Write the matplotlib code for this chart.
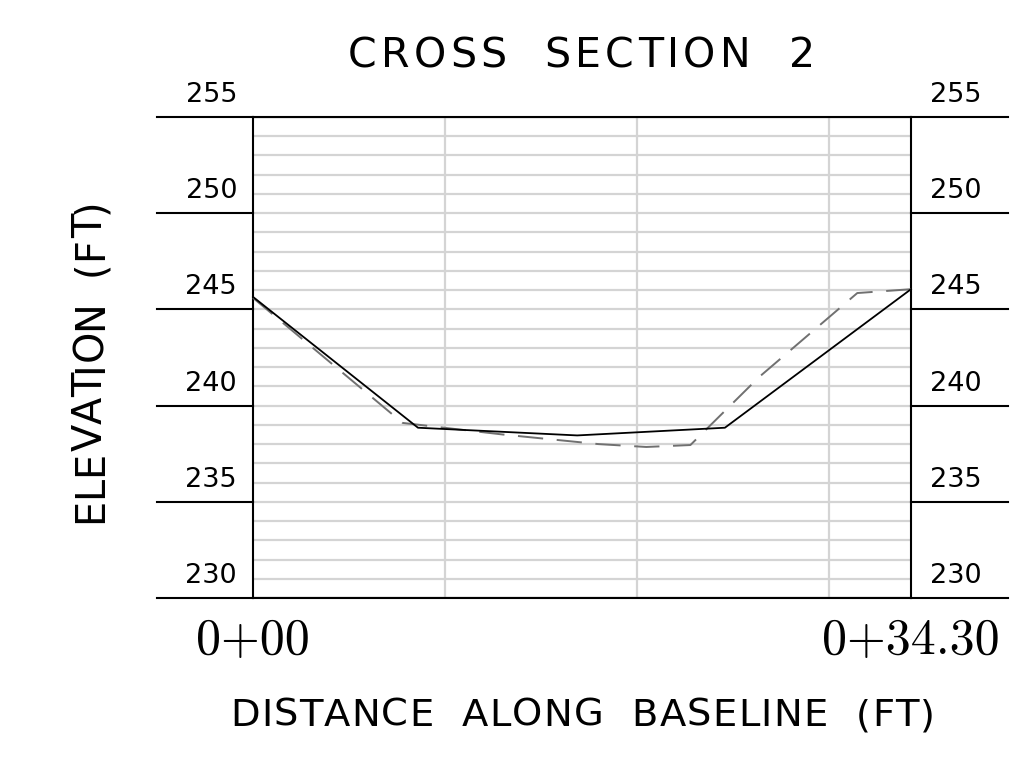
import matplotlib
matplotlib.use("Agg")
import matplotlib.pyplot as plt
from matplotlib.font_manager import FontProperties, findfont, get_font
from matplotlib.transforms import IdentityTransform

# Data
solid_x = [0.0, 8.6, 16.9, 24.6, 34.3]
solid_y = [245.65, 238.85, 238.45, 238.85, 246.05]
dash_x = [0.0, 7.8, 13.0, 18.0, 20.5, 22.8, 26.4, 31.5, 34.3]
dash_y = [245.6, 239.1, 238.5, 238.0, 237.85, 237.95, 241.5, 245.85, 246.05]
major_y = [230, 235, 240, 245, 250, 255]
minor_y = list(range(230, 256))
vgrid_x = [10, 20, 30]
station_labels = ["0+00", "0+34.30"]
station_x = [0.0, 34.3]
title = "CROSS  SECTION  2"
xlabel = "DISTANCE  ALONG  BASELINE  (FT)"
ylabel = "ELEVATION  (FT)"
xmin, xmax = 0.0, 34.3
ymin, ymax = 230, 255

W, H = 1036, 761
DPI = 100
fig = plt.figure(figsize=(W / DPI, H / DPI), dpi=DPI)
ax = fig.add_axes([253 / W, 1 - 598 / H, (911 - 253) / W, (598 - 117) / H])
ax.set_xlim(xmin, xmax)
ax.set_ylim(ymin, ymax)
ax.set_xticks([])
ax.set_yticks([])
for s in ax.spines.values():
    s.set_linewidth(1.5)
    s.set_color("black")

grid_c = "#d4d4d4"
for y in minor_y:
    ax.axhline(y, color=grid_c, lw=1.6, zorder=1)
for x in vgrid_x:
    ax.axvline(x, color=grid_c, lw=1.6, zorder=1)

trans = ax.get_yaxis_transform()
left_ext = (157 - 253) / (911 - 253)
right_ext = (1008 - 253) / (911 - 253)
for y in major_y:
    ax.plot([left_ext, 0], [y, y], color="black", lw=1.5, transform=trans, clip_on=False)
    ax.plot([1, right_ext], [y, y], color="black", lw=1.5, transform=trans, clip_on=False)
    ax.annotate(str(y), xy=(0, y), xycoords=trans, xytext=(-16, 9), textcoords="offset pixels",
                ha="right", va="bottom", fontsize=19.5, family="DejaVu Sans")
    ax.annotate(str(y), xy=(1, y), xycoords=trans, xytext=(19, 9), textcoords="offset pixels",
                ha="left", va="bottom", fontsize=19.5, family="DejaVu Sans")
ax.axhline(ymax, color="black", lw=1.5, zorder=3)
ax.axhline(ymin, color="black", lw=1.5, zorder=3)

ax.plot(dash_x, dash_y, color="#707070", lw=1.4, dashes=(13, 7), zorder=4, clip_on=False)
ax.plot(solid_x, solid_y, color="black", lw=1.3, zorder=5, clip_on=False)

xtrans = ax.get_xaxis_transform()
for lab, x in zip(station_labels, station_x):
    ax.annotate(lab, xy=(x, 0), xycoords=xtrans, xytext=(0, -20), textcoords="offset pixels",
                ha="center", va="top", fontsize=36, family="cmr10")


def tracked_text(s, center, baseline, fontsize, width, rotation=0):
    """Draw text with letter spacing so that it spans `width` pixels."""
    fp = FontProperties(family="DejaVu Sans", size=fontsize)
    font = get_font(findfont(fp))
    font.set_size(fontsize, DPI)
    advs = [font.load_char(ord(ch)).linearHoriAdvance / 65536.0 for ch in s]
    n = len(s)
    t = (width - sum(advs)) / (n - 1)
    total = sum(advs) + t * (n - 1)
    pos = center - total / 2
    for ch, a in zip(s, advs):
        if ch != " ":
            if rotation == 0:
                fig.text(pos, baseline, ch, transform=IdentityTransform(), fontproperties=fp,
                         ha="left", va="baseline")
            else:
                fig.text(baseline, pos, ch, transform=IdentityTransform(), fontproperties=fp,
                         ha="left", va="baseline", rotation=90, rotation_mode="anchor")
        pos += a + t


tracked_text(title, 581.5, H - 67, 29.6, 467)
tracked_text(xlabel, 582.5, H - 726, 27.7, 705)
tracked_text(ylabel, H - 360.5, 102, 28.7, 325, rotation=90)

fig.savefig("out.png", dpi=DPI)
